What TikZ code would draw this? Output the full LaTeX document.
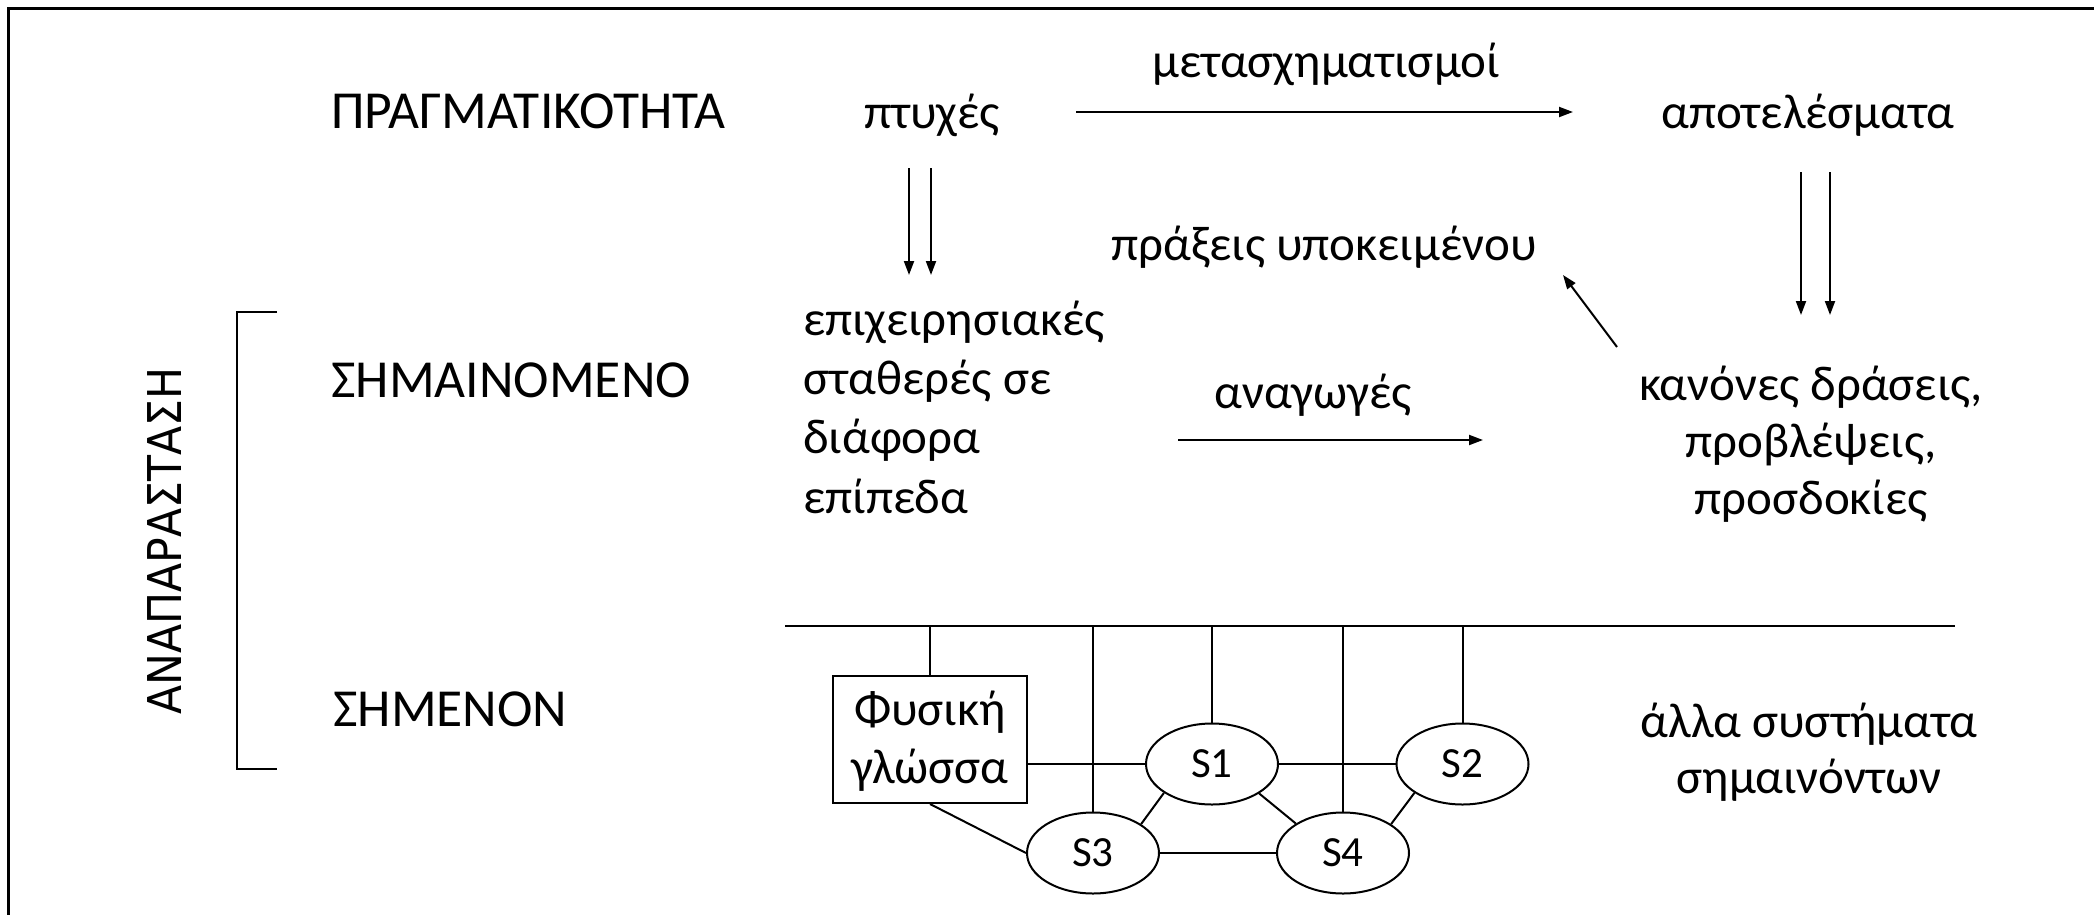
\documentclass[tikz,border=0pt]{standalone}
\usepackage{fontspec}
\usepackage{graphicx}
\setmainfont{Carlito}
\newfontfamily\widefont{DejaVu Sans}
\usetikzlibrary{arrows.meta,shapes.geometric}
\begin{document}
\begin{tikzpicture}[x=1pt,y=-1pt,
  txt/.style={inner sep=0pt, font=\fontsize{49}{59}\selectfont},
  caps/.style={inner sep=0pt, font=\fontsize{53.5}{60}\selectfont},
  conn/.style={line width=2pt},
  arr/.style={line width=2pt,-{Triangle[length=14pt,width=10pt]}},
  sys/.style={ellipse, draw, line width=2pt, minimum width=132pt, minimum height=81pt, inner sep=0pt, font=\fontsize{43}{50}\selectfont},
  boxnode/.style={draw, line width=2pt, minimum width=194pt, minimum height=123pt, inner sep=0pt, align=center, text height=107pt, text depth=20pt, font=\fontsize{49}{58}\selectfont},
]
\useasboundingbox (0,0) rectangle (2094,914);
\begin{scope}
\clip (0,0) rectangle (2094,914);
\draw[line width=3pt] (8,940) -- (8,8.5) -- (2120,8.5);
\end{scope}

% top row
\node[caps, anchor=base west] (real) at (331,128) {ΠΡΑΓΜΑΤΙΚΟΤΗΤΑ};
\node[txt, anchor=base] (ptyx) at (932,128) {πτυχές};
\node[txt, anchor=base] (apot) at (1808,128) {αποτελέσματα};
\node[txt, anchor=base] (metas) at (1326,77) {μετασχηματισμοί};
\coordinate (m1) at (1076,112);
\coordinate (m2) at (1573,112);
\draw[arr] (m1) -- (m2);

% double arrows
\coordinate (d1a) at (909,168);  \coordinate (d1b) at (909,275);
\coordinate (d2a) at (931,168);  \coordinate (d2b) at (931,275);
\coordinate (d3a) at (1801,172); \coordinate (d3b) at (1801,315);
\coordinate (d4a) at (1830,172); \coordinate (d4b) at (1830,315);
\draw[arr] (d1a) -- (d1b);
\draw[arr] (d2a) -- (d2b);
\draw[arr] (d3a) -- (d3b);
\draw[arr] (d4a) -- (d4b);

% middle
\node[txt, anchor=base] (prax) at (1324,260) {πράξεις υποκειμένου};
\coordinate (p1) at (1617,347);
\coordinate (p2) at (1563,275);
\draw[arr] (p1) -- (p2);

\node[caps, anchor=base west] (shm) at (331,397) {ΣΗΜΑΙΝΟΜΕΝΟ};
\node[txt, anchor=base west, align=left, font=\fontsize{49}{59.3}\selectfont] (epix) at (803,513) {επιχειρησιακές\\σταθερές σε\\διάφορα\\επίπεδα};
\node[txt, anchor=base] (anag) at (1313,408) {αναγωγές};
\coordinate (a1) at (1178,440);
\coordinate (a2) at (1483,440);
\draw[arr] (a1) -- (a2);
\node[txt, anchor=base, align=center, font=\fontsize{49}{57}\selectfont] (kan) at (1811,514) {κανόνες δράσεις,\\προβλέψεις,\\προσδοκίες};

% left bracket and vertical label
\node[inner sep=0pt, rotate=90, font=\widefont\fontsize{46.6}{50}\selectfont] (anap) at (165,541) {\scalebox{0.913}[1]{ΑΝΑΠΑΡΑΣΤΑΣΗ}};
\draw[conn] (277,312) -- (237,312) -- (237,769) -- (277,769);

% bottom
\node[caps, anchor=base west] (shmen) at (333,726) {ΣΗΜΕΝΟΝ};
\node[txt, anchor=base, align=center, font=\fontsize{49}{56}\selectfont] (alla) at (1809,793) {άλλα συστήματα\\σημαινόντων};

\coordinate (hlL) at (785,626);
\coordinate (hlR) at (1955,626);
\draw[line width=2.7pt] (hlL) -- (hlR);

\node[boxnode] (fg) at (930,739.5) {Φυσική\\γλώσσα};
\node[sys] (S1) at (1212,764) {S1};
\node[sys] (S2) at (1462.5,764) {S2};
\node[sys] (S3) at (1093,853) {S3};
\node[sys] (S4) at (1343,853) {S4};

\draw[conn] (fg.north) -- (fg.north |- hlL);
\draw[conn] (S3.north) -- (S3.north |- hlL);
\draw[conn] (S1.north) -- (S1.north |- hlL);
\draw[conn] (S4.north) -- (S4.north |- hlL);
\draw[conn] (S2.north) -- (S2.north |- hlL);

\draw[conn] (fg.east |- S1.west) -- (S1.west);
\draw[conn] (fg.south) -- (S3.west);
\draw[conn] (S1.east) -- (S2.west);
\draw[conn] (S3.east) -- (S4.west);
\draw[conn] (S1.211.2) -- (S3.31.8);
\draw[conn] (S1.328.8) -- (S4.148.2);
\draw[conn] (S2.211.2) -- (S4.31.8);
\end{tikzpicture}
\end{document}
